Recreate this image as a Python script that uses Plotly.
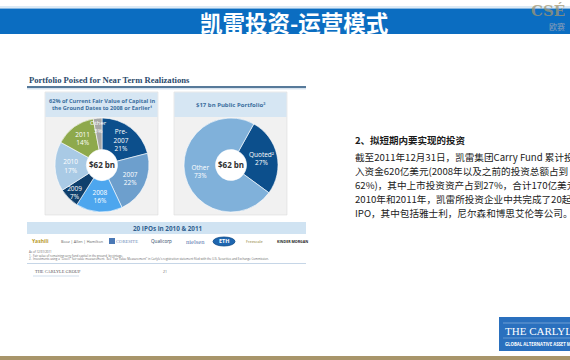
import math
import plotly.graph_objects as go

W, H = 570, 360
def X(p): return p / W
def Y(p): return 1 - p / H

# ---------------- data ----------------
slide_title = "凯雷投资-运营模式"
chart_title = "Portfolio Poised for Near Term Realizations"
left_header = "62% of Current Fair Value of Capital in<br>the Ground Dates to 2008 or Earlier¹"
right_header = "$17 bn Public Portfolio²"
vintage_labels = ["Pre-2007", "2007", "2008", "2009", "2010", "2011", "Other"]
vintage_text = ["Pre-<br>2007", "2007", "2008", "2009", "2010", "2011", "Other"]
vintage_share = [21, 22, 16, 7, 17, 14, 3]
public_labels = ["Quoted²", "Other"]
public_share = [27, 73]
center_label = "$62 bn"
ipo_banner = "20 IPOs in 2010 & 2011"
ipo_logos = ["Yashili", "Booz | Allen | Hamilton", "CORESITE", "Qualicorp", "nielsen", "ETH", "Freescale", "KINDER MORGAN"]
footnotes = ["As of 12/31/2011",
             "1.  Fair value of remaining carry fund capital in the ground, by vintage.",
             "2.  Investments using a \"Level I\" fair value measurement.  See \"Fair Value Measurement\" in Carlyle's registration statement filed with the U.S. Securities and Exchange Commission."]
body_heading = "2、拟短期内要实现的投资"
body_lines = ["截至2011年12月31日，凯雷集团Carry Fund 累计投",
              "入资金620亿美元(2008年以及之前的投资总额占到",
              "62%)，其中上市投资资产占到27%，合计170亿美元",
              "2010年和2011年，凯雷所投资企业中共完成了20起",
              "IPO，其中包括雅士利，尼尔森和博思艾伦等公司。"]

# ---------------- styles ----------------
vintage_colors = ["#0c4f8c", "#6d9fcd", "#4da6ee", "#0f3f6c", "#a9cae5", "#8ea94c", "#a7a7a7"]
public_colors = ["#0c4f8c", "#80b1da"]
CJK = "Noto Sans CJK SC"

# the tiny last slice gets its label as an annotation (it does not fit inside)
vintage_tmpl = ["%{text}<br>%{value}%"] * (len(vintage_share) - 1) + [""]

fig = go.Figure()

fig.add_trace(go.Pie(
    labels=vintage_labels, values=vintage_share, text=vintage_text,
    texttemplate=vintage_tmpl, textinfo="text",
    sort=False, direction="clockwise", rotation=0, hole=0.33,
    marker=dict(colors=vintage_colors, line=dict(color="white", width=0.6)),
    textposition="inside", insidetextorientation="horizontal",
    textfont=dict(family="Open Sans", size=6.5, color="white"),
    domain=dict(x=[X(55), X(149)], y=[Y(212), Y(118)]),
    showlegend=False, hoverinfo="label+percent"))

fig.add_trace(go.Pie(
    labels=public_labels, values=public_share,
    texttemplate="%{label}<br>%{value}%", textinfo="text",
    sort=False, direction="clockwise", rotation=29, hole=0.33,
    marker=dict(colors=public_colors, line=dict(color="white", width=0.6)),
    textposition="inside", insidetextorientation="horizontal",
    textfont=dict(family="Open Sans", size=6.5, color="white"),
    domain=dict(x=[X(184), X(278)], y=[Y(212), Y(118)]),
    showlegend=False, hoverinfo="label+percent"))

shapes = []
def rect(x0, y0, x1, y1, fill, line=None, lw=0, layer="below"):
    shapes.append(dict(type="rect", xref="paper", yref="paper", x0=X(x0), x1=X(x1), y0=Y(y1), y1=Y(y0),
                       fillcolor=fill, line=dict(color=line or fill, width=lw), layer=layer))
def hline(x0, x1, y, color, w):
    shapes.append(dict(type="line", xref="paper", yref="paper", x0=X(x0), x1=X(x1), y0=Y(y), y1=Y(y),
                       line=dict(color=color, width=w), layer="below"))

# top banner
hline(0, W, 7, "#b9d5ec", 1)
rect(0, 8.5, W, 34, "#0b6dc1")
# chart title rule
hline(27, 306, 87, "#1f4e79", 1.6)
hline(27, 306, 88.8, "#9fbbd6", 0.6)
# panels
for x0, x1 in [(45, 158), (174, 287)]:
    rect(x0, 92, x1, 215, "#f1f1f1", "#dcdcdc", 0.6)
    rect(x0 + 0.5, 92.5, x1 - 0.5, 117, "#d6e6f3")
# white holes
for cx in [102, 231]:
    shapes.append(dict(type="circle", xref="paper", yref="paper", x0=X(cx - 16), x1=X(cx + 16),
                       y0=Y(165 + 16), y1=Y(165 - 16), fillcolor="white", line=dict(width=0), layer="below"))
# IPO banner
rect(27, 222, 306, 234, "#d0e3f2")
# logo blue oval
shapes.append(dict(type="circle", xref="paper", yref="paper", x0=X(213), x1=X(235), y0=Y(246), y1=Y(237),
                   fillcolor="#1e66b0", line=dict(color="#0d4a88", width=0.8), layer="below"))
rect(109, 238, 115, 244, "#4a78b5")
# footnote rule
hline(27, 306, 263.5, "#9fbbd6", 0.6)
hline(33, 79, 276, "#9fbbd6", 0.5)
# bottom gold band
rect(0, 356, W, 360, "#a8956a")
# Carlyle logo box
rect(499, 317, W, 351, "#2a70be")
hline(503, W, 323, "#9cc0e6", 0.6)
hline(503, W, 338, "#9cc0e6", 0.5)

ann = []
def text(x, y, s, size, color, family="Open Sans", xanchor="left", bold=False, yanchor="middle"):
    if bold:
        s = "<b>" + s + "</b>"
    ann.append(dict(x=X(x), y=Y(y), xref="paper", yref="paper", text=s, showarrow=False,
                    xanchor=xanchor, yanchor=yanchor, font=dict(size=size, color=color, family=family)))

text(294, 21.5, slide_title, 22.5, "white", CJK, "center", True)
text(548, 11, "CSÉ", 15, "rgba(160,150,115,0.75)", "DejaVu Serif", "center", True)
text(557, 27, "欧赛", 8, "#8fa0b8", CJK, "center")

text(27, 80, chart_title, 8.6, "#2b4a6c", "Liberation Serif", "left", True)
text(101.5, 104.5, left_header, 5.6, "#3a6e9e", "Open Sans", "center", True)
text(230.5, 104.5, right_header, 6, "#3a6e9e", "Open Sans", "center", True)
text(102, 165, center_label, 8, "#2f2f2f", "Open Sans", "center", True)
text(231, 165, center_label, 8, "#2f2f2f", "Open Sans", "center", True)

# label for the last (small) vintage slice, placed at its mid-angle
tot = sum(vintage_share)
mid = (tot - vintage_share[-1] / 2) / tot * 2 * math.pi
r_lab = 38
text(102 + r_lab * math.sin(mid), 165 - r_lab * math.cos(mid),
     vintage_text[-1] + "<br>" + str(vintage_share[-1]) + "%", 6, "white", "Open Sans", "center")

text(167, 228, ipo_banner, 6.3, "#2f5f8f", "Open Sans", "center", True)

logo_x = [40, 82, 127, 161, 195, 224, 254, 292]
logo_col = ["#b89a2a", "#666666", "#6a88b5", "#2a3f66", "#5a78b0", "white", "#8a7a30", "#222222"]
logo_sz = [5, 3.8, 4.6, 4.6, 6.5, 5.5, 3.8, 3.6]
for lx, lbl, c, s in zip(logo_x, ipo_logos, logo_col, logo_sz):
    text(lx, 241.5, lbl, s, c, "Liberation Serif" if lbl in ("nielsen", "CORESITE") else "Open Sans", "center",
         lbl in ("KINDER MORGAN", "ETH", "Yashili"))

for i, fn in enumerate(footnotes):
    text(27, 252 + i * 3.7, fn, 2.9, "#666666", "Open Sans", "left")
text(33, 271.5, "THE CARLYLE GROUP", 4.4, "#555555", "Liberation Serif", "left")
text(165, 271, "21", 3.5, "#666666", "Open Sans", "center")

text(353, 140, body_heading, 9.5, "#1a1a1a", CJK, "left", True)
for i, line in enumerate(body_lines):
    text(353, 157 + i * 14.1, line, 9.6, "#222222", CJK, "left")

text(503, 330.5, "THE CARLYLE GROUP", 11, "white", "Liberation Serif", "left")
text(503, 344, "GLOBAL ALTERNATIVE ASSET MANAGER", 4.3, "white", "Open Sans", "left", True)

fig.update_layout(width=W, height=H, margin=dict(l=0, r=0, t=0, b=0),
                  paper_bgcolor="white", plot_bgcolor="white",
                  shapes=shapes, annotations=ann,
                  uniformtext=dict(minsize=6, mode="show"))
fig.write_html("out.html")
